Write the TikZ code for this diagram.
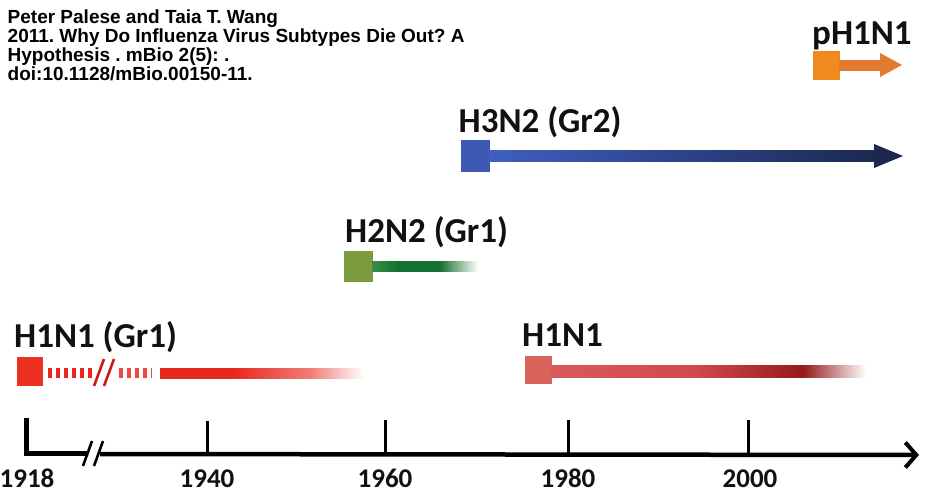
\documentclass[tikz,border=0pt]{standalone}
\usepackage{fontspec}
\setmainfont{Liberation Sans}
\newfontfamily\calfont{Carlito}
\usetikzlibrary{arrows.meta}
\frenchspacing
\definecolor{txt}{HTML}{111111}
\definecolor{hthreesq}{HTML}{3C5AB4}
\definecolor{hthreea}{HTML}{3F5FC2}
\definecolor{hthreeb}{HTML}{1B2850}
\definecolor{htwosq}{HTML}{7A9A3E}
\definecolor{htwoa}{HTML}{3A8C46}
\definecolor{htwob}{HTML}{147231}
\definecolor{redone}{HTML}{EC3022}
\definecolor{redbar}{HTML}{E8281F}
\definecolor{redslash}{HTML}{C81C18}
\definecolor{redtwosq}{HTML}{D9625A}
\definecolor{redtwoa}{HTML}{D95A58}
\definecolor{redtwob}{HTML}{D04A4A}
\definecolor{redtwoc}{HTML}{951A1A}
\definecolor{orsq}{HTML}{F08A1E}
\definecolor{orbar}{HTML}{E27A30}
\pgfdeclarehorizontalshading{hthreeshade}{100bp}{color(0bp)=(hthreea); color(25bp)=(hthreea); color(75bp)=(hthreeb); color(100bp)=(hthreeb)}
\pgfdeclarehorizontalshading{htwoshade}{100bp}{color(0bp)=(htwoa); color(25bp)=(htwoa); color(37bp)=(htwob); color(57bp)=(htwob); color(75bp)=(white); color(100bp)=(white)}
\pgfdeclarehorizontalshading{redoneshade}{100bp}{color(0bp)=(redbar); color(25bp)=(redbar); color(43bp)=(redbar); color(62bp)=(redbar!60!white); color(75bp)=(white); color(100bp)=(white)}
\pgfdeclarehorizontalshading{redtwoshade}{100bp}{color(0bp)=(redtwoa); color(25bp)=(redtwoa); color(48bp)=(redtwob); color(65bp)=(redtwoc); color(75bp)=(white); color(100bp)=(white)}
\begin{document}
\begin{tikzpicture}[x=1pt,y=-1pt,
  lbl/.style={font=\calfont\bfseries\fontsize{35}{35}\selectfont, text=txt, inner sep=0pt, anchor=base west},
  yr/.style={font=\calfont\bfseries\fontsize{27}{27}\selectfont, text=txt, inner sep=0pt, anchor=base},
  axisline/.style={line width=4.5pt, black},
  tickline/.style={line width=3pt, black},
  brk/.style={line width=2.6pt, black}]
\useasboundingbox (0,0) rectangle (927,498);
\fill[white] (0,0) rectangle (927,498);
% header
\node[inner sep=0pt, anchor=base west, align=left, text=black,
      font=\bfseries\fontsize{19}{17.6}\selectfont] (head) at (7.5,80)
  {Peter Palese and Taia T. Wang\\2011. Why Do Influenza Virus Subtypes Die Out? A\\Hypothesis . mBio 2(5): .\\doi:10.1128/mBio.00150-11.};
% pH1N1
\node[lbl] (lp) at (812,44) {pH1N1};
\fill[orsq] (813,51) rectangle (840,80);
\fill[orbar] (839,59.5) rectangle (882,70.5);
\fill[orbar] (880,53) -- (902,65) -- (880,77) -- cycle;
% H3N2
\node[lbl] (lh3) at (458.5,132) {H3N2 (Gr2)};
\fill[hthreesq] (461,140) rectangle (490,172);
\fill[shading=hthreeshade] (489,150.5) rectangle (876,161.5);
\fill[hthreeb] (874,144) -- (903,156) -- (874,168) -- cycle;
% H2N2
\node[lbl] (lh2) at (345,242) {H2N2 (Gr1)};
\fill[htwosq] (344,251) rectangle (373,282);
\fill[shading=htwoshade] (372,261) rectangle (478,271);
% H1N1 (Gr1)
\node[lbl] (lh1a) at (14,347) {H1N1 (Gr1)};
\fill[redone] (17,357) rectangle (43,386);
\draw[redbar, line width=10pt, dash pattern=on 3.5pt off 4.5pt] (48,373) -- (96,373);
\draw[redbar!85!white, line width=10pt, dash pattern=on 3.5pt off 4.5pt] (119,373) -- (152,373);
\draw[redslash, line width=2.6pt] (94,386) -- (104,359);
\draw[redslash, line width=2.6pt] (104,386) -- (114,359);
\fill[shading=redoneshade] (160,368) rectangle (364,378);
% H1N1
\node[lbl] (lh1b) at (522,346) {H1N1};
\fill[redtwosq] (525,356) rectangle (552,384);
\fill[shading=redtwoshade] (551,365.5) rectangle (866,377);
% axis
\coordinate (o) at (26,418);
\coordinate (c) at (26,453);
\coordinate (b1) at (88,453);
\coordinate (b2) at (100,454);
\coordinate (e) at (919,455);
\draw[axisline, line width=5pt, line cap=butt, line join=miter] (o) -- (c) -- (b1);
\draw[axisline, -{Straight Barb[length=11pt,width=25pt,line width=4pt]}] (b2) -- (e);
\draw[brk] (83,466) -- (92,441);
\draw[brk] (94,466) -- (103,441);
\foreach \x/\t in {207/421,385/420,568/420,748/420}
  \draw[tickline] (\x,\t) -- (\x,455);
\node[yr] (y1918) at (27,487) {1918};
\node[yr] (y1940) at (207,487) {1940};
\node[yr] (y1960) at (385,487) {1960};
\node[yr] (y1980) at (568,487) {1980};
\node[yr] (y2000) at (750,487) {2000};
\end{tikzpicture}
\end{document}
